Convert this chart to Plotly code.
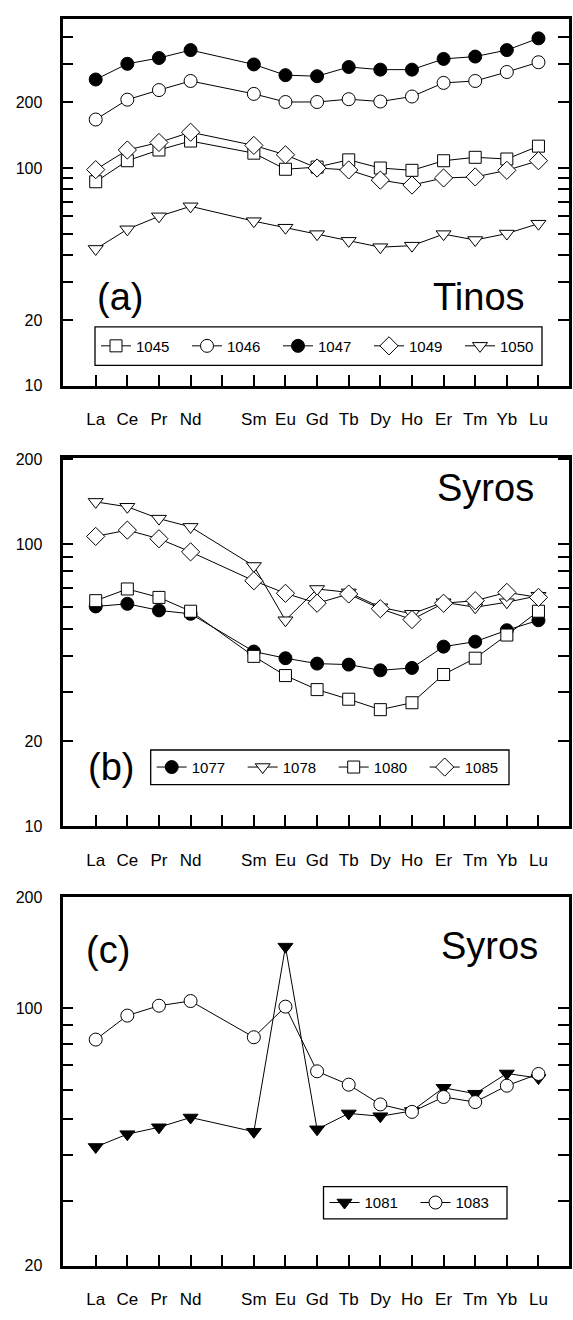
import plotly.graph_objects as go

# ---------------- data ----------------
REE = ["La", "Ce", "Pr", "Nd", "Pm", "Sm", "Eu", "Gd", "Tb", "Dy", "Ho", "Er", "Tm", "Yb", "Lu"]
ELEMENTS = [e for e in REE if e != "Pm"]
TICK_TEXT = ["" if e == "Pm" else e for e in REE]

# (a) Tinos
s1045 = [86.5, 108, 121, 133, 117, 98.7, 101, 109, 100, 97.6, 108, 112, 110, 126]
s1046 = [167, 206, 228, 251, 219, 201, 201, 207, 202, 213, 246, 251, 276, 306]
s1047 = [255, 301, 320, 348, 299, 267, 264, 291, 283, 283, 317, 325, 348, 394]
s1049 = [98.3, 121, 131, 146, 127, 115, 100, 98, 88, 83.5, 90, 91, 97.6, 108]
s1050 = [42.5, 52.3, 60, 66.7, 57, 53.2, 49.7, 46.3, 43.3, 44, 49.7, 46.7, 50, 55.5]

# (b) Syros
s1077 = [60.1, 61.4, 58.2, 56.6, 41.6, 39.4, 37.7, 37.4, 35.7, 36.4, 43.3, 45.1, 49.5, 53.7]
s1078 = [141, 135.5, 123, 115, 83.6, 53.7, 69.3, 67.4, 59.7, 56.6, 62.2, 59.7, 62.2, 65.6]
s1080 = [63, 69.3, 64.7, 57.8, 40, 34.2, 30.5, 28.2, 25.9, 27.4, 34.5, 39.4, 47.6, 57.8]
s1085 = [106.4, 112, 104.4, 93.8, 74.1, 66.9, 61.7, 66.5, 59, 54, 61.7, 63, 67.4, 64.7]

# (c) Syros
s1081 = [42, 45.5, 47.5, 50.5, 46.2, 147, 46.9, 51.8, 50.9, 52.6, 60.8, 58.6, 66.5, 64.6]
s1083 = [82.2, 95.5, 101.6, 104.6, 83.4, 101, 67.4, 62, 54.8, 52.3, 57.4, 55.6, 61.6, 66.3]

YTICKS_A = [10, 20, 30, 40, 50, 60, 70, 80, 90, 100, 200, 300, 400]
YLABELS_A = ["10", "20", "", "", "", "", "", "", "", "100", "200", "", ""]
YTICKS_B = [10, 20, 30, 40, 50, 60, 70, 80, 90, 100, 200]
YLABELS_B = ["10", "20", "", "", "", "", "", "", "", "100", "200"]
YTICKS_C = [20, 30, 40, 50, 60, 70, 80, 90, 100, 200]
YLABELS_C = ["20", "", "", "", "", "", "", "", "100", "200"]

# ---------------- figure ----------------
FONT = "Liberation Sans, Arial, Helvetica, sans-serif"
X = [REE.index(e) for e in ELEMENTS]

fig = go.Figure()

def add(series, name, symbol, fill, xa, ya, legend, size):
    fig.add_trace(go.Scatter(
        x=X, y=series, name=name, mode="lines+markers",
        xaxis=xa, yaxis=ya, legend=legend,
        line=dict(color="black", width=1),
        marker=dict(symbol=symbol, size=size, color=fill,
                    line=dict(color="black", width=1)),
    ))

add(s1045, "1045", "square", "white", "x", "y", "legend", 12)
add(s1046, "1046", "circle", "white", "x", "y", "legend", 13)
add(s1047, "1047", "circle", "black", "x", "y", "legend", 13)
add(s1049, "1049", "diamond", "white", "x", "y", "legend", 14)
add(s1050, "1050", "triangle-down", "white", "x", "y", "legend", 13)

add(s1077, "1077", "circle", "black", "x2", "y2", "legend2", 13)
add(s1078, "1078", "triangle-down", "white", "x2", "y2", "legend2", 13)
add(s1080, "1080", "square", "white", "x2", "y2", "legend2", 12)
add(s1085, "1085", "diamond", "white", "x2", "y2", "legend2", 14)

add(s1081, "1081", "triangle-down", "black", "x3", "y3", "legend3", 13)
add(s1083, "1083", "circle", "white", "x3", "y3", "legend3", 13)

W, H = 573, 1320
XDOM = [62.5 / W, 568.5 / W]

def ydom(top, bottom):
    return [1 - bottom / H, 1 - top / H]

xbase = dict(range=[-1.05, 14.95], tickmode="array", tickvals=list(range(len(REE))),
             ticktext=TICK_TEXT, ticks="inside", ticklen=11, tickwidth=1.5,
             tickcolor="black", showline=True, linewidth=2.8, linecolor="black",
             mirror=True, showgrid=False, zeroline=False, domain=XDOM,
             tickfont=dict(family=FONT, size=17, color="black"),
             ticklabelstandoff=16)

def ybase(rng, vals, labels, dom, anchor):
    return dict(type="log", range=rng, tickmode="array", tickvals=vals, ticktext=labels,
                ticks="inside", ticklen=11, tickwidth=1.5, tickcolor="black",
                showline=True, linewidth=2.8, linecolor="black", mirror="ticks",
                showgrid=False, zeroline=False, domain=dom, anchor=anchor,
                tickfont=dict(family=FONT, size=16, color="black"),
                ticklabelstandoff=14)

fig.update_layout(
    xaxis=dict(xbase, anchor="y"),
    xaxis2=dict(xbase, anchor="y2"),
    xaxis3=dict(xbase, anchor="y3"),
    yaxis=ybase([1, 2.685], YTICKS_A, YLABELS_A, ydom(11, 382.7), "x"),
    yaxis2=ybase([1, 2.306], YTICKS_B, YLABELS_B, ydom(455.5, 829), "x2"),
    yaxis3=ybase([1.30103, 2.30103], YTICKS_C, YLABELS_C, ydom(901, 1274), "x3"),
)

# legend frames (paper coordinates, px)
LEG_BOXES = [(95, 323, 542, 362), (150.7, 751.7, 509, 786.7), (323.5, 1194, 507, 1226.7)]
for (x0, y0, x1, y1) in LEG_BOXES:
    fig.add_shape(type="rect", xref="paper", yref="paper",
                  x0=x0 / W, x1=x1 / W, y0=1 - y1 / H, y1=1 - y0 / H,
                  line=dict(color="black", width=1.3), fillcolor="white", layer="above")

leg = dict(orientation="h", xanchor="left", yanchor="middle", bgcolor="rgba(0,0,0,0)",
           borderwidth=0, font=dict(family=FONT, size=15, color="black"),
           itemwidth=30, entrywidth=46)
fig.update_layout(
    legend=dict(leg, x=(LEG_BOXES[0][0] + 1) / W, y=1 - (LEG_BOXES[0][1] + LEG_BOXES[0][3]) / 2 / H),
    legend2=dict(leg, x=(LEG_BOXES[1][0] + 1) / W, y=1 - (LEG_BOXES[1][1] + LEG_BOXES[1][3]) / 2 / H),
    legend3=dict(leg, x=(LEG_BOXES[2][0] + 1) / W, y=1 - (LEG_BOXES[2][1] + LEG_BOXES[2][3]) / 2 / H),
)

def label(text, x, y, anchor):
    fig.add_annotation(text=text, xref="paper", yref="paper", x=x / W, y=1 - y / H,
                       xanchor=anchor, yanchor="middle", showarrow=False,
                       font=dict(family=FONT, size=38, color="black"))

label("(a)", 95, 293, "left")
label("Tinos", 527, 293, "right")
label("(b)", 86, 769, "left")
label("Syros", 536, 486, "right")
label("(c)", 84, 954, "left")
label("Syros", 540, 950, "right")

fig.update_layout(width=W, height=H, margin=dict(l=0, r=0, t=0, b=0),
                  paper_bgcolor="white", plot_bgcolor="white", showlegend=True)

fig.write_html("out.html")
